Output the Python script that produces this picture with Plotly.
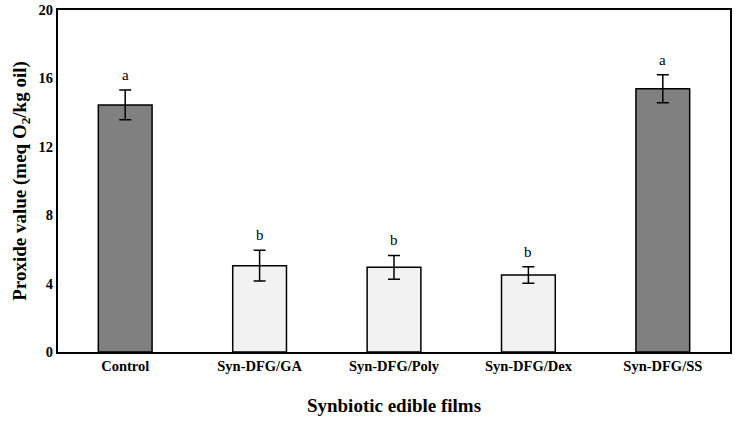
import plotly.graph_objects as go

categories = ["Control", "Syn-DFG/GA", "Syn-DFG/Poly", "Syn-DFG/Dex", "Syn-DFG/SS"]
values = [14.45, 5.05, 4.95, 4.5, 15.4]
errors = [0.87, 0.9, 0.7, 0.48, 0.82]
letters = ["a", "b", "b", "b", "a"]
colors = ["#808080", "#F2F2F2", "#F2F2F2", "#F2F2F2", "#808080"]
y_ticks = [0, 4, 8, 12, 16, 20]

font = "Liberation Serif, Times New Roman, serif"

fig = go.Figure()
fig.add_trace(go.Bar(
    x=categories, y=values,
    marker=dict(color=colors, line=dict(color="black", width=1.5)),
    width=0.4,
    error_y=dict(type="data", array=errors, color="black", thickness=1.5, width=6),
))

for c, v, e, l in zip(categories, values, errors, letters):
    fig.add_annotation(x=c, y=v + e, text=l, showarrow=False, yshift=15,
                       font=dict(family=font, size=15, color="black"))

fig.update_layout(
    width=740, height=422,
    margin=dict(l=58, r=10, t=10, b=70),
    plot_bgcolor="white", paper_bgcolor="white",
    showlegend=False,
    font=dict(family=font, color="black"),
)
fig.update_xaxes(
    automargin=False,
    showline=True, linecolor="black", linewidth=2, mirror=True,
    ticks="", showgrid=False,
    tickfont=dict(family=font, size=14.5, color="black"),
    tickprefix="<b>", ticksuffix="</b>",
    title=dict(text="<b>Synbiotic edible films</b>", font=dict(family=font, size=19, color="black"), standoff=25),
)
fig.update_yaxes(
    automargin=False,
    range=[0, 20], tickvals=y_ticks,
    ticktext=["<b>%d</b>" % v for v in y_ticks],
    showline=True, linecolor="black", linewidth=2, mirror=True,
    ticks="", showgrid=False, zeroline=False,
    tickfont=dict(family=font, size=14.5, color="black"),
    title=dict(text="<b>Proxide value (meq O<sub>2</sub>/kg oil)</b>", font=dict(family=font, size=19, color="black"), standoff=7),
)

fig.write_html("out.html", config={"displayModeBar": False},
               post_script="document.body.style.margin='0';")
